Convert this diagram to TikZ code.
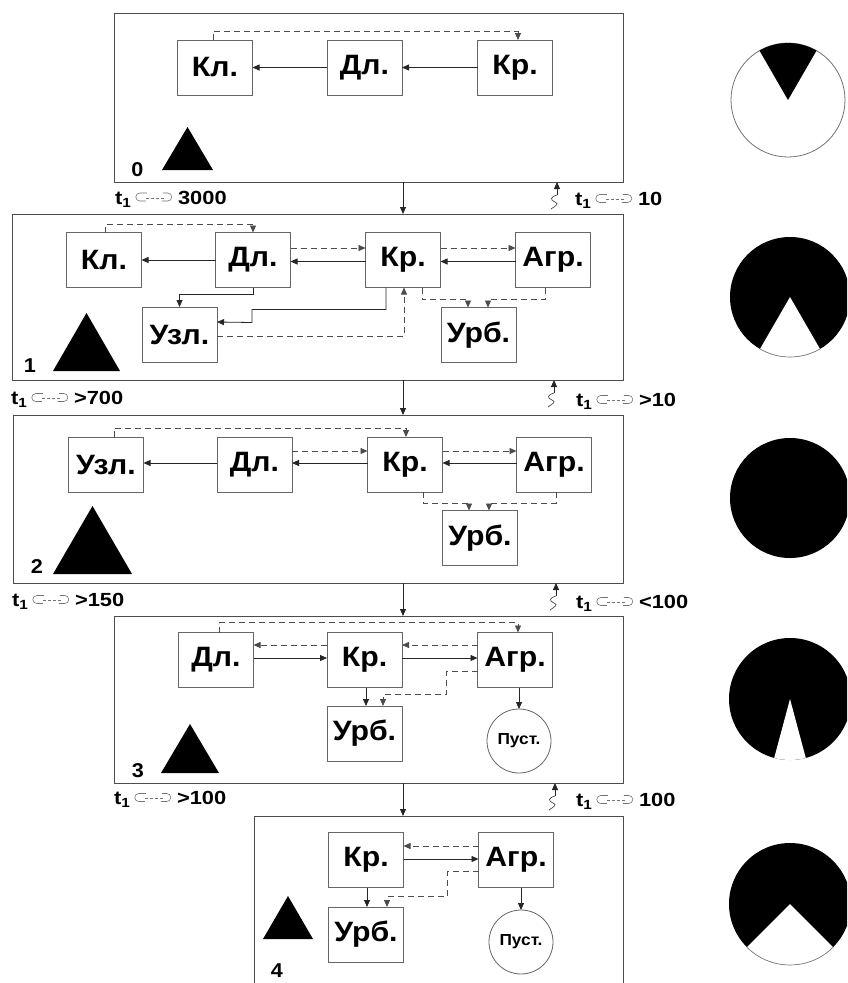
\documentclass[tikz,border=0pt]{standalone}
\usepackage{fontspec}
\setmainfont{Liberation Sans}[FakeStretch=1.08]
\newfontfamily\lblfont{Liberation Sans}[FakeStretch=1.15]
\usetikzlibrary{arrows.meta,calc}
\newcommand\lnkg{\tikz[x=1pt,y=1pt,baseline={(0,-7pt)},line width=0.6pt]{%
  \draw[black!55] (11,4) -- (4,4) arc[start angle=90,end angle=270,radius=4] -- (10,-4);
  \draw[black!55,dash pattern=on 3pt off 2pt] (10,-1) -- (28,-1);
  \draw[black!55] (27,4) -- (32,4) arc[start angle=90,end angle=-90,radius=4] -- (26,-4);}}
\tikzset{
  panel/.style={draw=black!70, line width=1pt, inner sep=0pt, outer sep=0pt},
  blk/.style={draw=black!60, line width=0.9pt, minimum width=75pt, minimum height=55pt, inner sep=0pt, outer sep=0pt, font=\fontsize{28}{28}\selectfont\bfseries},
  pcirc/.style={circle, draw=black!60, line width=0.8pt, minimum size=64pt, inner sep=0pt, outer sep=0pt, font=\fontsize{16}{16}\selectfont\bfseries},
  sol/.style={draw=black!85, line width=0.8pt, -{Triangle[length=7pt,width=6pt]}},
  dsh/.style={draw=black!70, line width=0.8pt, dash pattern=on 6pt off 4pt, -{Triangle[length=7pt,width=6pt]}},
  sq/.style={draw=black!70, line width=0.7pt},
  lbl/.style={anchor=base west, inner sep=0pt, font=\lblfont\fontsize{19}{19}\selectfont\bfseries},
  num/.style={inner sep=0pt, font=\fontsize{20}{20}\selectfont\bfseries},
}
\begin{document}
\begin{tikzpicture}[x=1pt,y=-1pt]
\useasboundingbox (0,0) rectangle (847,983);
\clip (0,0) rectangle (847,983);
\fill[white] (0,0) rectangle (847,983);

% ---------- panels ----------
\node[panel, minimum width=509pt, minimum height=169pt] (p0) at (368.5,97.5) {};
\node[panel, minimum width=610.5pt, minimum height=166pt] (p1) at (317.75,297) {};
\node[panel, minimum width=610pt, minimum height=168pt] (p2) at (318,499) {};
\node[panel, minimum width=509pt, minimum height=167pt] (p3) at (368.5,699.5) {};
\node[panel, minimum width=369pt, minimum height=188pt] (p4) at (438.5,910) {};

% ---------- panel 0 ----------
\node[blk] (k0) at (215,67.5) {Кл.};
\node[blk] (d0) at (364.5,67.5) {Дл.};
\node[blk] (r0) at (515,67.5) {Кр.};
\draw[sol] (r0.west) -- (d0.east);
\draw[sol] (d0.west) -- (k0.east);
\draw[dsh] ([xshift=-2pt]k0.north) -- ++(0,-9) -| ([xshift=3pt]r0.north);
\fill (162,170) -- (213,170) -- (187.5,127) -- cycle;
\node[num] (n0) at (137.5,169.5) {0};

% ---------- panel 1 ----------
\node[blk] (k1) at (104,260) {Кл.};
\node[blk] (d1) at (253,260) {Дл.};
\node[blk] (r1) at (403,260) {Кр.};
\node[blk] (a1) at (553,260) {Агр.};
\node[blk] (u1) at (179.5,334.5) {Узл.};
\node[blk] (b1) at (478.5,335) {Урб.};
\draw[dsh] ([xshift=1pt]k1.north) -- ++(0,-8) -| (d1.north);
\draw[sol] (d1.west) -- (k1.east);
\draw[dsh] ([yshift=12pt]d1.east) -- ([yshift=12pt]r1.west);
\draw[sol] ([yshift=-1.5pt]r1.west) -- ([yshift=-1.5pt]d1.east);
\draw[dsh] ([yshift=12pt]r1.east) -- ([yshift=12pt]a1.west);
\draw[sol] ([yshift=-1.5pt]a1.west) -- ([yshift=-1.5pt]r1.east);
\draw[sol] (d1.south) -- ++(0,7) -| (u1.north);
\draw[sol] ([xshift=-17pt]r1.south) -- ++(0,22) -- ++(-134,0) -- ++(0,13) -- ([yshift=12.5pt]u1.east);
\draw[dsh] ([yshift=-1.5pt]u1.east) -| ([xshift=1pt]r1.south);
\draw[dsh] ([xshift=19pt]r1.south) -- ++(0,12) -| ([xshift=-10.5pt]b1.north);
\draw[dsh] ([xshift=-8pt]a1.south) -- ++(0,12) -| ([xshift=9.5pt]b1.north);
\fill (53,371) -- (120,371) -- (86.5,313) -- cycle;
\node[num] (n1) at (30,366) {1};

% ---------- panel 2 ----------
\node[blk] (u2) at (106,464.5) {Узл.};
\node[blk] (d2) at (254.5,464.5) {Дл.};
\node[blk] (r2) at (405,464.5) {Кр.};
\node[blk] (a2) at (554,464.5) {Агр.};
\node[blk] (b2) at (480,538) {Урб.};
\draw[sol] ([yshift=1.5pt]d2.west) -- ([yshift=1.5pt]u2.east);
\draw[dsh] ([xshift=8pt]u2.north) -- ++(0,-9) -| ([xshift=1pt]r2.north);
\draw[dsh] ([yshift=13.5pt]d2.east) -- ([yshift=13.5pt]r2.west);
\draw[sol] ([yshift=1.5pt]r2.west) -- ([yshift=1.5pt]d2.east);
\draw[dsh] ([yshift=13.5pt]r2.east) -- ([yshift=13.5pt]a2.west);
\draw[sol] ([yshift=1.5pt]a2.west) -- ([yshift=1.5pt]r2.east);
\draw[dsh] ([xshift=18pt]r2.south) -- ++(0,11) -| ([xshift=-11pt]b2.north);
\draw[dsh] ([xshift=2pt]a2.south) -- ++(0,11) -| ([xshift=9pt]b2.north);
\fill (53,574) -- (132,574) -- (92.5,506) -- cycle;
\node[num] (n2) at (37,567) {2};

% ---------- panel 3 ----------
\node[blk] (d3) at (216,660) {Дл.};
\node[blk] (r3) at (364.5,660) {Кр.};
\node[blk] (a3) at (515,660) {Агр.};
\node[blk] (b3) at (364.5,733.5) {Урб.};
\node[pcirc] (e3) at (519,741) {Пуст.};
\draw[dsh] ([xshift=3pt]d3.north) -- ++(0,-10) -| ([xshift=3pt]a3.north);
\draw[dsh] ([yshift=15pt]r3.west) -- ([yshift=15pt]d3.east);
\draw[sol] ([yshift=2pt]d3.east) -- ([yshift=2pt]r3.west);
\draw[dsh] ([yshift=15pt]a3.west) -- ([yshift=15pt]r3.east);
\draw[sol] ([yshift=2pt]r3.east) -- ([yshift=2pt]a3.west);
\draw[dsh] ([yshift=-11pt]a3.west) -- ++(-31,0) -- ++(0,23) -| ([xshift=18.5pt]b3.north);
\draw[sol] ([xshift=1.5pt]r3.south) -- ([xshift=1.5pt]b3.north);
\draw[sol] (e3.north |- a3.south) -- (e3.north);
\fill (161,773) -- (219,773) -- (190,724) -- cycle;
\node[num] (n3) at (138,771) {3};

% ---------- panel 4 ----------
\node[blk] (r4) at (366,860) {Кр.};
\node[blk] (a4) at (516,860) {Агр.};
\node[blk] (b4) at (366,934.5) {Урб.};
\node[pcirc] (e4) at (521,942) {Пуст.};
\draw[dsh] ([yshift=14pt]a4.west) -- ([yshift=14pt]r4.east);
\draw[sol] ([yshift=1pt]r4.east) -- ([yshift=1pt]a4.west);
\draw[dsh] ([yshift=-11pt]a4.west) -- ++(-31,0) -- ++(0,25) -| ([xshift=21pt]b4.north);
\draw[sol] ([xshift=1pt]r4.south) -- ([xshift=1pt]b4.north);
\draw[sol] (e4.north |- a4.south) -- (e4.north);
\fill (263,939) -- (313,939) -- (288,896) -- cycle;
\node[num] (n4) at (277,971) {4};

% ---------- transitions ----------
\draw[sol] ([xshift=34.5pt]p0.south) -- ([xshift=85.25pt]p1.north);
\draw[sol] ([xshift=85.25pt]p1.south) -- ([xshift=85pt]p2.north);
\draw[sol] ([xshift=85pt]p2.south) -- ([xshift=34.5pt]p3.north);
\draw[sol] ([xshift=34.5pt]p3.south) -- ([xshift=-35.5pt]p4.north);

\coordinate (w0) at (557,195);
\coordinate (w1) at (554,393);
\coordinate (w2) at (556,596);
\coordinate (w3) at (555,796);
\draw[sol] (w0) -- ([xshift=188.5pt]p0.south);
\draw[sol] (w1) -- ([xshift=236.25pt]p1.south);
\draw[sol] (w2) -- ([xshift=238pt]p2.south);
\draw[sol] (w3) -- ([xshift=186.5pt]p3.south);
\foreach \w in {w0,w1,w2,w3}{
  \draw[sq] (\w) .. controls ++(-7,2) and ++(-5,-2) .. ++(-2,7) .. controls ++(5,2) and ++(4,-3) .. ++(-4,7);
}

\node[lbl] (l0) at (115,204) {t\textsubscript{1}\hspace{4pt}\lnkg\hspace{6pt}3000};
\node[lbl] (l1) at (11,404.5) {t\textsubscript{1}\hspace{4pt}\lnkg\hspace{6pt}>700};
\node[lbl] (l2) at (12,606.5) {t\textsubscript{1}\hspace{4pt}\lnkg\hspace{6pt}>150};
\node[lbl] (l3) at (114,804.5) {t\textsubscript{1}\hspace{4pt}\lnkg\hspace{6pt}>100};
\node[lbl] (m0) at (575,205.5) {t\textsubscript{1}\hspace{4pt}\lnkg\hspace{6pt}10};
\node[lbl] (m1) at (576,406.5) {t\textsubscript{1}\hspace{4pt}\lnkg\hspace{6pt}>10};
\node[lbl] (m2) at (576,608.5) {t\textsubscript{1}\hspace{4pt}\lnkg\hspace{6pt}<100};
\node[lbl] (m3) at (576,806.5) {t\textsubscript{1}\hspace{4pt}\lnkg\hspace{6pt}100};

% ---------- pie circles ----------
\draw[black!55, line width=0.8pt, fill=white] (788,100) circle[radius=57];
\fill (788,100) -- ++(-120:57) arc[start angle=-120,end angle=-60,radius=57] -- cycle;

\fill (790,297) circle[radius=60];
\fill[white] (790,297) -- ++(60:60) arc[start angle=60,end angle=120,radius=60] -- cycle;
\draw[black!50, line width=0.7pt] (790,297) ++(60:60) arc[start angle=60,end angle=120,radius=60];

\fill (790,498) circle[radius=60];

\fill (790,699) circle[radius=61];
\fill[white] (790,699) -- ++(75:61) arc[start angle=75,end angle=105,radius=61] -- cycle;

\fill (790,904) circle[radius=61];
\fill[white] (790,904) -- ++(45:61) arc[start angle=45,end angle=135,radius=61] -- cycle;
\draw[black!50, line width=0.7pt] (790,904) ++(45:61) arc[start angle=45,end angle=135,radius=61];
\end{tikzpicture}
\end{document}
